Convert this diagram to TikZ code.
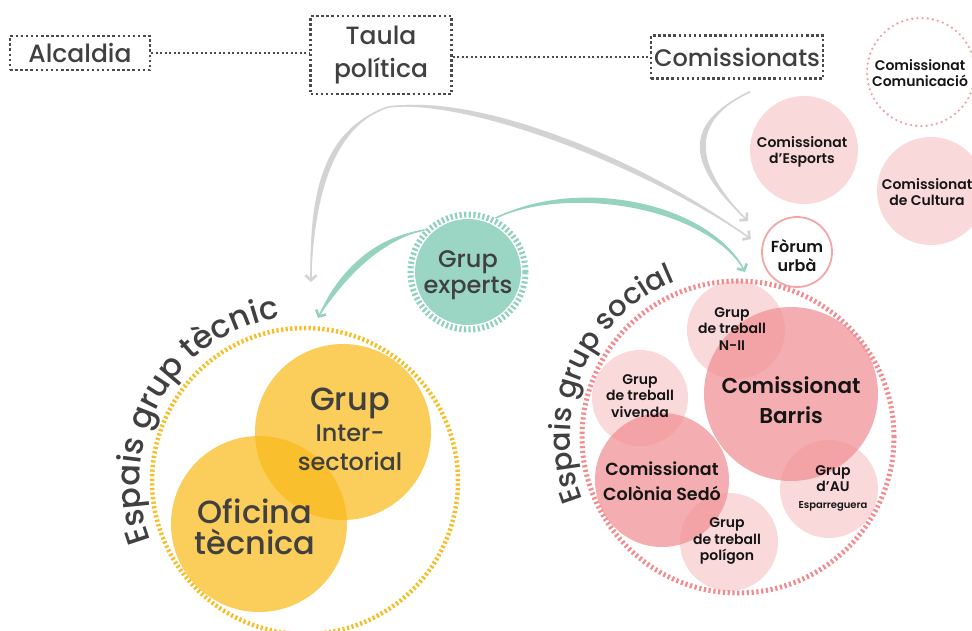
\documentclass[tikz,border=0pt]{standalone}
\usepackage{fontspec}
\setmainfont{Poppins}[UprightFont=* Medium]
\newfontfamily\medfont{Poppins}[UprightFont=* SemiBold]
\usetikzlibrary{arrows.meta,decorations.text,calc}
\definecolor{txtgray}{HTML}{404040}
\definecolor{dotgray}{HTML}{4A4A4A}
\definecolor{arrgray}{HTML}{D3D3D5}
\definecolor{tealfill}{HTML}{9BD5C3}
\definecolor{tealring}{HTML}{8FD1BB}
\definecolor{tealarr}{HTML}{96D3BF}
\definecolor{yelbase}{HTML}{F9BA1A}
\definecolor{yelring}{HTML}{F8BD22}
\definecolor{pinkbase}{HTML}{F08A8E}
\definecolor{pinklight}{HTML}{FAD9DA}
\definecolor{pinkring}{HTML}{F28A8E}
\definecolor{pinkforum}{HTML}{F4A5A7}
\definecolor{pinkdot}{HTML}{F4A0A4}
\definecolor{ink}{HTML}{151515}
\begin{document}
\begin{tikzpicture}[x=1pt,y=1pt,
  dotbox/.style={draw=dotgray,line width=2.5pt,dash pattern=on 2.5pt off 2.6pt,inner sep=0pt,text=txtgray,align=center},
  dotline/.style={draw=dotgray,line width=2pt,dash pattern=on 2pt off 2.5pt},
  disk/.style={circle,inner sep=0pt,minimum size=#1},
  lightdisk/.style={disk=#1,fill=pinkbase,fill opacity=0.32},
  bigdisk/.style={disk=#1,fill=pinkbase,fill opacity=0.7},
  yeldisk/.style={disk=#1,fill=yelbase,fill opacity=0.72},
  ptxt/.style={text=ink,align=center,inner sep=0pt,font=\medfont\fontsize{14}{16.5}\selectfont},
  gtxt/.style={text=txtgray,align=center,inner sep=0pt},
  grayarr/.style={draw=arrgray,line width=1.6pt,-{Straight Barb[length=5pt,width=11pt,line width=2.6pt]}},
  tealarrow/.style={draw=tealarr,line width=1.6pt,-{Straight Barb[length=5pt,width=11pt,line width=2.6pt]}}
]
\useasboundingbox (0,0) rectangle (972,-630);

% top boxes
\node[dotbox,minimum width=140pt,minimum height=34pt,font=\fontsize{25}{28}\selectfont] (alc) at (80,-53) {Alcaldia};
\node[dotbox,minimum width=141pt,minimum height=78pt,font=\fontsize{25}{33}\selectfont] (taula) at (381,-55) {Taula\\política};
\node[dotbox,minimum width=172pt,minimum height=43pt,font=\fontsize{24}{28}\selectfont] (comis) at (737,-57) {Comissionats};
\draw[dotline] (alc.east) -- (alc.east -| taula.west);
\draw[dotline] (taula.east |- comis.west) -- (comis.west);

% right top circles
\node[disk=108pt,draw=pinkdot,line width=2.6pt,dash pattern=on 0pt off 5.2pt,line cap=round] (comunic) at (921,-72) {};
\node[disk=108pt,fill=pinklight] (esports) at (804,-150) {};
\node[disk=108pt,fill=pinklight] (cultura) at (931,-191) {};
\node[disk=70pt,draw=pinkforum,line width=1.8pt] (forum) at (797,-252) {};

% social space
\node[disk=312pt,draw=pinkring,line width=5pt,dash pattern=on 2.2pt off 2.6pt] (social) at (738,-437) {};
\node[lightdisk=98pt] (n2) at (736,-330) {};
\node[lightdisk=96pt] (vivenda) at (640,-398) {};
\node[lightdisk=98pt] (au) at (829,-489) {};
\node[lightdisk=98pt] (poligon) at (729,-542) {};
\node[bigdisk=174pt] (barris) at (791,-394) {};
\node[bigdisk=134pt] (colonia) at (662,-480) {};

% technical space
\node[disk=306pt,draw=yelring,line width=4.5pt,dash pattern=on 2.2pt off 2.4pt] (tecnic) at (305,-481) {};
\node[yeldisk=176pt] (grupint) at (343,-432) {};
\node[yeldisk=176pt] (oficina) at (259,-524) {};

% experts
\node[disk=115pt,draw=tealring,line width=6pt,dash pattern=on 2.2pt off 2.4pt] (experts) at (468,-272) {};
\fill[tealfill] (experts.center) circle[radius=53];

% arrows
\coordinate (fork) at ($(taula.south)+(6,-12)$);
\coordinate (tecTip) at (311,-282);
\coordinate (forTipA) at (751,-239);
\coordinate (comStart) at ($(comis.south)+(13,-12)$);
\coordinate (forTipB) at (748,-221);
\coordinate (tecTipG) at (318,-318);
\coordinate (socTipG) at (745,-272);
\coordinate (expL) at (experts.136);
\coordinate (expR) at (experts.63);
% tapered bodies
\fill[arrgray] (fork) .. controls (336,-125) and (307,-170) .. (tecTip) .. controls (315,-170) and (344,-125) .. (fork);
\fill[arrgray] (fork) .. controls (470,-91) and (641,-156) .. (forTipA) .. controls (639,-164) and (470,-99) .. (fork);
\fill[arrgray] (comStart) .. controls (676,-125) and (691,-170) .. (forTipB) .. controls (699,-170) and (684,-125) .. (comStart);
\fill[tealarr] (expL) .. controls (373,-243) and (338,-288) .. (tecTipG) .. controls (332,-282) and (367,-237) .. (expL);
\fill[tealarr] (expR) .. controls (575,-176) and (711,-201) .. (socTipG) .. controls (709,-209) and (575,-184) .. (expR);
% connectors
\draw[grayarr] (fork) .. controls (340,-125) and (311,-170) .. (tecTip);
\draw[grayarr] (fork) .. controls (470,-95) and (640,-160) .. (forTipA);
\draw[grayarr] (comStart) .. controls (680,-125) and (695,-170) .. (forTipB);
\draw[tealarrow] (expL) .. controls (370,-240) and (335,-285) .. (tecTipG);
\draw[tealarrow] (expR) .. controls (575,-180) and (710,-205) .. (socTipG);

% curved titles
\path[decorate,decoration={text along path,text align=center,text color=txtgray,
  text={|\fontsize{32}{32}\selectfont|Espais grup tècnic}}]
  (tecnic.center) ++(225:165) arc[start angle=225,end angle=75,radius=165];
\path[decorate,decoration={text along path,text align=center,text color=txtgray,
  text={|\fontsize{29}{29}\selectfont|Espais grup social}}]
  (social.center) ++(232:168) arc[start angle=232,end angle=82,radius=168];

% texts
\node[ptxt,font=\medfont\fontsize{14}{15.5}\selectfont] (comunicT) at (920,-73) {Comissionat\\Comunicació};
\node[ptxt,font=\medfont\fontsize{14}{15.5}\selectfont] (esportsT) at (802,-152) {Comissionat\\d’Esports};
\node[ptxt,font=\medfont\fontsize{14}{15.5}\selectfont] (culturaT) at (927,-192) {Comissionat\\de Cultura};
\node[ptxt,font=\medfont\fontsize{16}{19}\selectfont] (forumT) at (797,-256) {Fòrum\\urbà};
\node[ptxt,font=\medfont\fontsize{21.5}{30}\selectfont] (barrisT) at (791,-400) {Comissionat\\Barris};
\node[ptxt,font=\medfont\fontsize{17.5}{25}\selectfont] (coloniaT) at (662,-481) {Comissionat\\Colònia Sedó};
\node[ptxt] (n2T) at (732,-329) {Grup\\de treball\\N-II};
\node[ptxt] (vivendaT) at (640,-396) {Grup\\de treball\\vivenda};
\node[ptxt] (auT) at (833,-488) {Grup\\d’AU\\{\fontsize{10}{11}\selectfont Esparreguera}};
\node[ptxt] (poligonT) at (727,-541) {Grup\\de treball\\polígon};
\node[gtxt,font=\fontsize{24}{26}\selectfont] (expertsT) at (468,-275) {Grup\\experts};
\node[gtxt,font=\fontsize{24}{29}\selectfont] (grupintT) at (350,-429) {{\fontsize{32}{32}\selectfont Grup}\\[2pt]Inter-\\sectorial};
\node[gtxt,font=\fontsize{32}{31}\selectfont] (oficinaT) at (255,-527) {Oficina\\tècnica};
\end{tikzpicture}
\end{document}
